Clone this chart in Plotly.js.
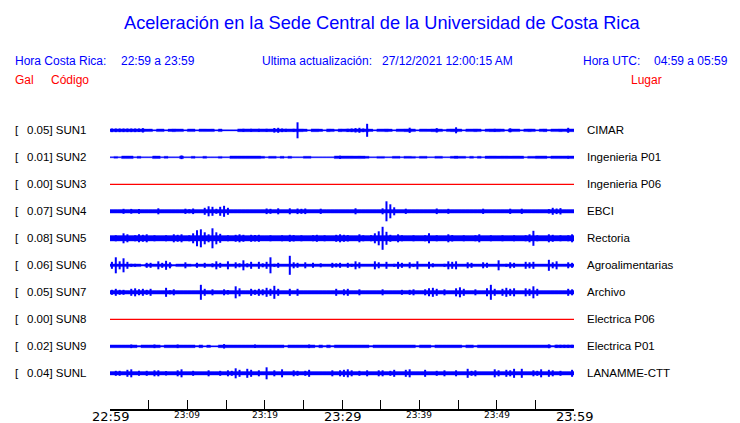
<!DOCTYPE html>
<html><head><meta charset="utf-8">
<script src="https://cdn.plot.ly/plotly-3.0.1.min.js"></script>
<style>html,body{margin:0;padding:0;background:#fff}#chart{width:740px;height:423px}</style>
</head><body><div id="chart"></div>
<script>
// ---- data ----
const stations = ["SUN1","SUN2","SUN3","SUN4","SUN5","SUN6","SUN7","SUN8","SUN9","SUNL"];
const galValues = ["0.05","0.01","0.00","0.07","0.08","0.06","0.05","0.00","0.02","0.04"];
const places = ["CIMAR","Ingenieria P01","Ingenieria P06","EBCI","Rectoria","Agroalimentarias","Archivo","Electrica P06","Electrica P01","LANAMME-CTT"];

// background noise half-width of each trace (display units)
const baseAmp = [1.4, 1.3, 0, 1.8, 2.7, 1.3, 1.8, 0, 1.4, 1.7];

// envelope half-amplitude of each trace, one value per 30 s (display units)
const sun1Amp = [1.8,1.8,1.8,1.8,1.8,1.8,1.8,1.8,2.2,1.2, 1.3,0.6,1.3,1.3,0.6,1.2,1.4,1.3,1.3,0.6, 1.3,1.3,0.6,1.3,1.3,1.2,1.3,0.6,1.3,0.6, 0.6,0.6,0.6,1.4,1.5,1.4,1.5,1.4,1.5,1.4, 1.5,1.4,2.3,2.5,1.8,1.5,1.4,1.5,8.0,1.4, 1.2,0.6,1.4,1.4,1.2,0.6,1.4,1.3,0.7,1.4, 1.3,1.5,1.8,2.2,2.5,1.8,6.5,1.2,0.6,1.3, 1.3,1.4,1.2,0.6,1.3,1.3,1.4,2.6,1.3,0.6, 1.3,1.3,1.2,1.4,2.2,1.3,0.7,1.3,1.4,3.0, 1.3,0.6,1.3,1.3,1.4,1.3,0.6,1.3,1.4,1.5, 1.4,1.3,0.6,2.0,1.3,1.3,0.6,1.3,1.4,1.3, 0.6,1.3,1.4,0.7,1.3,1.3,1.4,1.3,2.5,1.4];
const sun2Amp = [0.5,0.9,0.5,1.3,1.3,1.3,0.5,1.0,0.5,0.5, 0.5,1.3,1.2,0.5,1.0,0.5,0.5,0.5,1.8,0.5, 0.5,1.0,0.5,0.5,1.0,0.5,0.5,0.5,0.9,0.5, 0.5,1.3,1.3,1.3,1.3,1.3,1.3,1.3,1.3,1.0, 0.5,1.0,1.0,0.5,1.0,0.5,1.0,0.5,0.5,0.5, 1.0,1.0,0.5,0.5,0.5,0.5,0.5,0.5,1.3,1.6, 1.3,1.3,1.3,1.2,1.3,1.2,1.0,0.5,0.5,0.9, 0.9,0.5,0.5,1.0,1.0,0.5,1.0,1.0,0.9,0.5, 1.0,1.0,0.5,0.5,1.0,1.0,0.5,0.5,1.0,1.2, 1.0,1.0,0.5,1.0,0.5,1.0,0.5,1.2,1.3,1.3, 1.2,1.3,1.3,1.2,1.3,1.3,1.2,0.5,1.0,1.0, 1.3,1.3,1.3,0.8,1.3,1.3,1.3,1.3,1.4,1.3];
const sun3Amp = null; // no signal: flat red line
const sun4Amp = [1.8,1.8,1.8,2.5,1.8,2.4,1.8,2.4,1.8,1.8, 1.8,1.8,3.0,1.8,1.8,1.8,1.8,1.8,1.8,2.6, 2.0,2.8,1.8,1.8,3.5,5.0,4.5,2.5,4.5,5.5, 3.5,1.8,1.8,1.8,1.8,1.8,1.8,1.8,1.8,1.8, 2.8,2.5,1.8,3.0,1.8,1.8,3.0,1.8,2.8,2.5, 2.8,1.8,1.8,1.8,2.6,1.8,1.8,1.8,1.8,1.8, 1.8,1.8,1.8,3.0,1.8,1.8,1.8,1.8,1.8,1.8, 3.0,10,7.0,4.0,1.8,1.8,2.6,1.8,1.8,1.8, 1.8,1.8,1.8,1.8,2.8,1.8,1.8,2.5,1.8,1.8, 1.8,1.8,1.8,1.8,1.8,1.8,2.6,1.8,1.8,1.8, 1.8,1.8,1.8,2.6,1.8,1.8,2.6,1.8,1.8,1.8, 1.8,1.8,1.8,2.2,3.5,2.8,3.2,1.8,1.8,1.8];
const sun5Amp = [2.7,3.0,2.7,5.0,4.0,2.7,3.0,4.0,3.5,4.0, 2.7,3.0,2.7,2.7,3.0,2.7,4.0,3.5,4.0,2.7, 3.0,5.0,8.0,9.0,6.0,4.0,10,6.0,4.5,2.7, 3.0,2.7,3.5,4.0,3.5,2.7,3.5,3.2,3.5,2.7, 2.7,3.0,2.7,2.7,3.0,2.7,3.5,3.2,2.7,3.0, 2.7,2.7,3.0,3.5,2.7,3.0,2.7,2.7,3.5,4.0, 3.5,3.2,2.7,2.7,4.0,3.0,2.7,3.0,5.0,7.0, 11.5,6.5,3.5,2.7,4.0,3.0,2.7,2.7,3.0,2.7, 2.7,3.0,5.0,2.7,3.0,2.7,2.7,4.0,3.2,2.7, 2.7,3.0,2.7,2.7,3.0,4.0,2.7,2.7,3.0,2.7, 2.7,3.0,2.7,2.7,3.0,2.7,2.7,3.0,4.0,7.5, 3.0,2.7,2.7,4.0,3.5,2.7,3.0,2.7,3.0,4.0];
const sun6Amp = [3.5,8.0,4.0,7.0,3.5,1.5,1.5,1.3,0.8,2.5, 2.5,1.3,4.0,2.5,4.5,3.0,0.8,1.3,1.3,3.0, 1.3,1.0,2.5,1.3,2.5,1.3,2.0,4.0,2.5,1.3, 4.0,1.3,3.0,2.0,5.0,2.0,3.5,1.3,3.5,2.0, 3.5,8.0,1.5,2.5,1.3,1.3,9.5,3.0,2.5,1.3, 3.0,1.3,2.5,1.3,2.0,1.3,1.3,2.5,2.0,2.5, 1.3,2.5,1.5,4.0,3.0,1.3,1.3,1.3,4.0,3.0, 1.3,3.5,1.3,1.5,3.5,2.5,1.3,3.0,1.5,4.0, 1.3,1.3,3.5,2.0,1.3,1.3,1.5,4.0,3.5,4.0, 1.3,1.3,3.0,2.5,1.3,1.3,3.0,2.5,1.3,1.3, 5.0,1.3,1.5,3.0,2.5,1.3,1.3,3.5,3.0,3.5, 1.3,1.3,1.3,5.5,3.0,4.0,1.3,1.3,3.0,2.5];
const sun7Amp = [2.5,3.5,2.5,2.5,1.8,3.5,4.0,3.0,3.5,2.5, 3.5,1.8,1.8,1.8,4.5,2.0,3.0,1.8,1.8,1.8, 1.8,1.8,1.8,7.5,3.5,1.8,3.0,1.8,1.8,3.0, 2.2,1.8,6.0,4.0,1.8,1.8,3.5,2.5,3.5,3.0, 4.5,3.5,6.5,3.5,1.8,1.8,3.5,1.8,3.5,1.8, 1.8,1.8,1.8,1.8,1.8,1.8,1.8,1.8,3.5,1.8, 3.0,3.5,1.8,1.8,3.0,1.8,1.8,1.8,1.8,1.8, 3.0,1.8,1.8,1.8,1.8,2.5,1.8,2.5,3.0,1.8, 1.8,3.0,4.0,4.5,3.5,1.8,3.0,1.8,1.8,4.0, 5.0,3.5,1.8,1.8,3.0,1.8,1.8,4.0,7.5,3.5, 1.8,3.5,4.5,3.5,4.0,1.8,1.8,4.0,3.5,6.0, 3.5,1.8,1.8,1.8,1.8,1.8,1.8,1.8,3.5,3.0];
const sun8Amp = null; // no signal: flat red line
const sun9Amp = [1.4,1.4,1.4,1.4,1.4,1.8,1.4,0.8,1.4,1.4, 1.4,1.8,1.4,0.7,1.4,1.4,1.4,1.8,1.4,1.4, 1.4,1.4,0.7,1.4,0.6,1.2,0.6,0.6,1.4,2.2, 1.4,1.4,1.4,1.4,1.4,1.4,1.4,1.8,1.4,1.4, 1.4,1.4,1.4,1.4,1.4,0.7,1.4,1.4,1.4,1.4, 1.4,1.8,1.4,0.8,1.4,0.8,1.4,0.7,1.4,1.4, 1.4,1.4,1.4,1.4,1.4,1.4,1.4,0.8,1.4,1.4, 1.4,1.4,1.4,1.4,1.4,1.4,1.4,1.4,1.4,0.8, 1.4,1.4,1.4,0.8,1.4,1.4,1.4,1.4,1.4,1.4, 1.4,0.8,1.4,1.4,0.8,1.4,1.4,1.4,1.4,1.4, 1.4,1.4,1.4,1.4,1.4,1.4,1.4,1.4,1.4,1.4, 1.4,1.4,1.4,1.9,0.8,1.5,1.5,1.5,1.5,1.5];
const sunLAmp = [1.7,2.5,2.5,1.7,3.5,4.0,1.7,2.5,1.7,2.5, 1.7,3.0,3.0,1.7,2.2,1.7,1.7,3.0,4.0,1.7, 1.7,2.5,1.7,1.7,1.7,3.0,1.7,1.7,2.5,1.7, 3.0,2.5,5.0,3.5,1.7,4.5,3.5,1.7,3.0,1.7, 6.0,1.7,3.0,1.7,4.0,1.7,1.7,3.0,2.5,1.7, 2.5,3.5,1.7,1.7,1.7,1.7,1.7,3.0,1.7,3.0, 3.5,4.0,3.0,1.7,2.5,1.7,3.0,1.7,1.7,3.0, 3.0,1.7,2.5,3.5,1.7,1.7,3.5,4.0,1.7,1.7, 1.7,3.5,1.7,1.7,2.5,1.7,3.0,1.7,1.7,3.0, 1.7,1.7,4.5,2.5,3.0,1.7,1.7,1.7,1.7,4.0, 3.0,1.7,3.5,3.0,4.5,1.7,4.5,1.7,1.7,3.0, 2.5,4.0,1.7,3.5,3.0,1.7,2.5,1.7,1.7,3.5];
const amplitudes = [sun1Amp,sun2Amp,sun3Amp,sun4Amp,sun5Amp,sun6Amp,sun7Amp,sun8Amp,sun9Amp,sunLAmp];

// time axis (minutes after 22:59)
const sampleStepMin = 0.5;
const tickPositions = [0,5,10,15,20,25,30,35,40,45,50,55,60];
const majorTickVals = [0,30,60];
const majorTickText = ["22:59","23:29","23:59"];
const minorTickVals = [10,20,40,50];
const minorTickText = ["23:09","23:19","23:39","23:49"];

// ---- drawing ----
const BLUE = "#0000ff", RED = "#ff0000";
const GAIN = 1/27; // display units per trace spacing
const traces = [];
amplitudes.forEach((amp, k) => {
  const row = -k;
  if (!amp) {
    traces.push({x:[0,60], y:[row,row], mode:"lines", line:{color:RED, width:1.3}, hoverinfo:"skip", showlegend:false});
    return;
  }
  // noise band (step envelope, limited to the background level)
  const xs = amp.map((_, i) => i*sampleStepMin).concat([amp.length*sampleStepMin]);
  const band = amp.map(v => Math.min(v, baseAmp[k]));
  const b = band.concat([band[band.length-1]]);
  traces.push({x:xs, y:b.map(v => row - v*GAIN), mode:"lines", line:{color:BLUE, width:0.4, shape:"hv"}, hoverinfo:"skip", showlegend:false});
  traces.push({x:xs, y:b.map(v => row + v*GAIN), mode:"lines", fill:"tonexty", fillcolor:BLUE, line:{color:BLUE, width:0.4, shape:"hv"}, hoverinfo:"skip", showlegend:false});
  // peaks drawn as vertical strokes
  const cx = [], cy = [];
  amp.forEach((v, i) => {
    if (v > baseAmp[k]) {
      const t = (i + 0.5)*sampleStepMin;
      cx.push(t, t, null); cy.push(row - v*GAIN, row + v*GAIN, null);
    }
  });
  traces.push({x:cx, y:cy, mode:"lines", line:{color:BLUE, width:2}, connectgaps:false, hoverinfo:"skip", showlegend:false});
});

const L = 110, R = 574, TOP = 110, BOT = 409;
const px2x = px => (px - L)/(R - L);
const py2y = py => (BOT - py)/(BOT - TOP);
const SANS = "Liberation Sans, Arial, sans-serif";
const hdrFont = {family:SANS, size:12, color:BLUE};
const redFont = {family:SANS, size:12, color:RED};
const lblFont = {family:SANS, size:11.5, color:"#000"};
const PAD = 2; // annotation inner padding in px

const annotations = [
  {text:"Aceleración en la Sede Central de la Universidad de Costa Rica", x:px2x(382), y:py2y(23), xanchor:"center", font:{family:SANS, size:18.2, color:BLUE}},
  {text:"Hora Costa Rica:", x:px2x(15-PAD), y:py2y(61), xanchor:"left", font:hdrFont},
  {text:"22:59 a 23:59", x:px2x(121-PAD), y:py2y(61), xanchor:"left", font:hdrFont},
  {text:"Ultima actualización:", x:px2x(262-PAD), y:py2y(61), xanchor:"left", font:hdrFont},
  {text:"27/12/2021 12:00:15 AM", x:px2x(382-PAD), y:py2y(61), xanchor:"left", font:hdrFont},
  {text:"Hora UTC:", x:px2x(583-PAD), y:py2y(61), xanchor:"left", font:hdrFont},
  {text:"04:59 a 05:59", x:px2x(654-PAD), y:py2y(61), xanchor:"left", font:hdrFont},
  {text:"Gal", x:px2x(15-PAD), y:py2y(80), xanchor:"left", font:redFont},
  {text:"Código", x:px2x(51-PAD), y:py2y(80), xanchor:"left", font:redFont},
  {text:"Lugar", x:px2x(631-PAD), y:py2y(80), xanchor:"left", font:redFont}
].map(a => Object.assign({xref:"paper", yref:"paper", yanchor:"middle", showarrow:false}, a));

stations.forEach((s, k) => {
  annotations.push({text:"[", x:px2x(15-PAD), y:-k, xref:"paper", yref:"y", xanchor:"left", yanchor:"middle", showarrow:false, font:lblFont});
  annotations.push({text:galValues[k] + "] " + s, x:px2x(27-PAD), y:-k, xref:"paper", yref:"y", xanchor:"left", yanchor:"middle", showarrow:false, font:lblFont});
  annotations.push({text:places[k], x:px2x(587-PAD), y:-k, xref:"paper", yref:"y", xanchor:"left", yanchor:"middle", showarrow:false, font:lblFont});
});

// time labels under the axis (large at the hour marks, small in between)
majorTickVals.forEach((v, j) => annotations.push({text:majorTickText[j], x:v, xref:"x", y:py2y(407), yref:"paper", xanchor:"center", yanchor:"top", showarrow:false, font:{family:"DejaVu Sans, sans-serif", size:13, color:"#000"}}));
minorTickVals.forEach((v, j) => annotations.push({text:minorTickText[j], x:v, xref:"x", y:py2y(408), yref:"paper", xanchor:"center", yanchor:"top", showarrow:false, font:{family:"DejaVu Sans, sans-serif", size:9, color:"#000"}}));

const layout = {
  width:740, height:423,
  margin:{l:L, r:740-R, t:TOP, b:423-BOT, pad:0},
  paper_bgcolor:"#fff", plot_bgcolor:"#fff",
  showlegend:false,
  xaxis:{range:[0,60], tickvals:tickPositions, showticklabels:false,
         ticks:"inside", ticklen:9, tickwidth:1, tickcolor:"#000",
         showline:true, linecolor:"#000", linewidth:1.5, showgrid:false, zeroline:false,
         automargin:false, fixedrange:true},
  yaxis:{range:[-10.322, 0.752], visible:false, fixedrange:true},
  annotations:annotations
};

Plotly.newPlot("chart", traces, layout, {displayModeBar:false, staticPlot:true});
</script>
</body></html>
